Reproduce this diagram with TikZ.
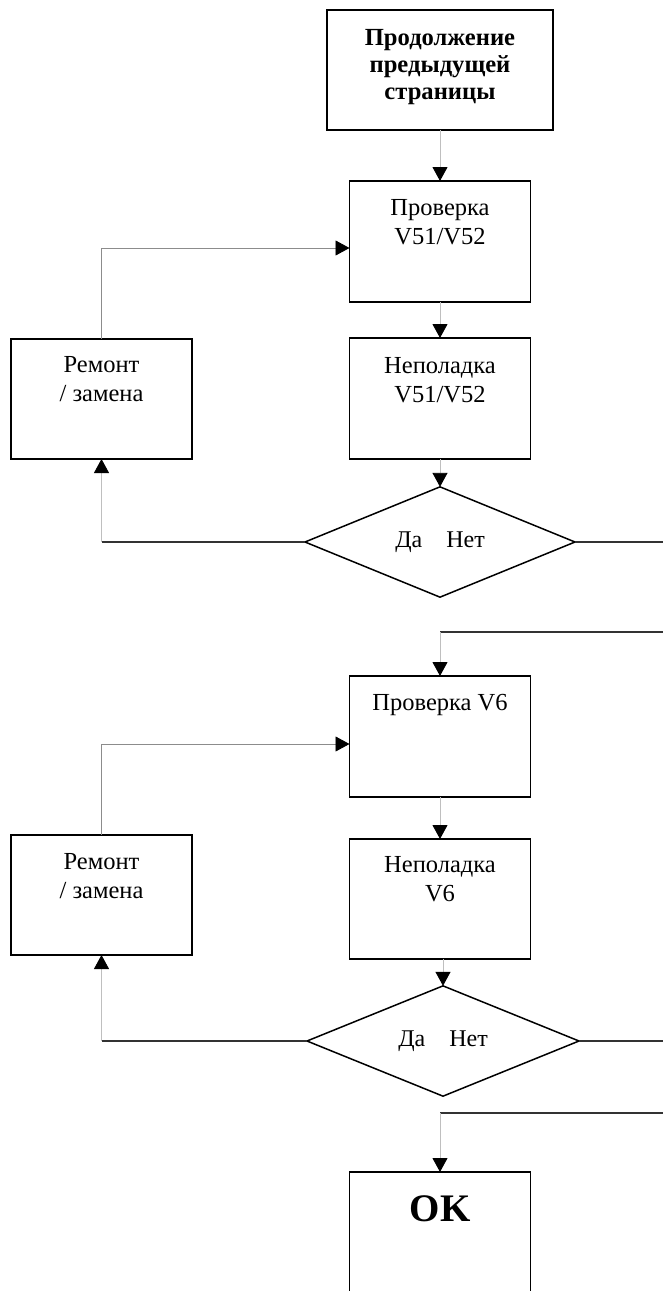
\documentclass[tikz,border=0pt]{standalone}
\usepackage{fontspec}
\setmainfont{Liberation Serif}
\usetikzlibrary{shapes.geometric,arrows.meta}
\tikzset{
  boxn/.style={draw=black,line width=1.6pt,minimum width=181pt,inner sep=0pt,outer sep=0pt},
  txtn/.style={align=center,inner sep=0pt,font={\fontsize{24.5pt}{29pt}\selectfont}},
  txtb/.style={align=center,inner sep=0pt,font={\fontsize{24.6pt}{27pt}\selectfont\bfseries}},
  dia/.style={draw=black,line width=1.5pt,diamond,inner sep=0pt,outer sep=0pt,
    minimum width=270pt,minimum height=91pt,font={\fontsize{24pt}{28pt}\selectfont}},
  tipa/.style={-{Triangle[width=15pt,length=14pt,color=black]}},
  vconn/.style={draw=black!25,line width=0.9pt},
  fconn/.style={draw=black!45,line width=0.9pt},
  hconn/.style={draw=black!80,line width=1.1pt},
}
\begin{document}
\begin{tikzpicture}[x=1pt,y=-1pt]
\useasboundingbox (0,0) rectangle (663,1291);
% boxes
\node[boxn,minimum width=226pt,minimum height=120pt] (top) at (440,70) {};
\node[txtb,anchor=north] (toptxt) at (440,29) {Продолжение\\предыдущей\\страницы};

\node[boxn,minimum height=121pt] (b1) at (440,241.5) {};
\node[txtn,anchor=north] (b1t) at (440,199) {Проверка\\V51/V52};

\node[boxn,minimum height=121pt] (b2) at (440,398.5) {};
\node[txtn,anchor=north] (b2t) at (440,357) {Неполадка\\V51/V52};

\node[boxn,minimum height=120pt] (r1) at (101.5,399) {};
\node[txtn,anchor=north] (r1t) at (101.5,356) {Ремонт\\/ замена};

\node[dia] (d1) at (440,542) {Да\hspace{24pt}Нет};

\node[boxn,minimum height=121pt] (b3) at (440,736.5) {};
\node[txtn,anchor=north] (b3t) at (440,694) {Проверка V6};

\node[boxn,minimum height=120pt] (b4) at (440,899) {};
\node[txtn,anchor=north] (b4t) at (440,856) {Неполадка\\V6};

\node[boxn,minimum height=120pt] (r2) at (101.5,895) {};
\node[txtn,anchor=north] (r2t) at (101.5,853) {Ремонт\\/ замена};

\node[dia,minimum width=272pt,minimum height=90pt] (d2) at (443,1041) {Да\hspace{24pt}Нет};

\node[boxn,minimum height=170pt] (ok) at (440,1257) {};
\node[txtb,font={\fontsize{39pt}{44pt}\selectfont\bfseries},anchor=north] (okt) at (440,1195) {OK};

% edge coordinates
\coordinate (e1) at (663,542);
\coordinate (e2) at (663,632);
\coordinate (e3) at (663,1041);
\coordinate (e4) at (663,1113);
\coordinate (c1) at (d1.west -| r1.south);
\coordinate (c2) at (d2.west -| r2.south);
\coordinate (c3) at (e2 -| b3.north);
\coordinate (c4) at (e4 -| ok.north);
\coordinate (f1) at ([yshift=-6.5pt]b1.west);
\coordinate (f2) at ([yshift=-7.5pt]b3.west);

% connectors
\draw[vconn,tipa] (top.south) -- (b1.north);
\draw[vconn,tipa] (b1.south) -- (b2.north);
\draw[vconn,tipa] (b2.south) -- (d1.north);
\draw[hconn] (d1.west) -- (c1);
\draw[vconn,tipa] (c1) -- (r1.south);
\draw[fconn,tipa] (r1.north) |- (f1);
\draw[hconn] (d1.east) -- (e1);

\draw[hconn] (e2) -- (c3);
\draw[vconn,tipa] (c3) -- (b3.north);
\draw[vconn,tipa] (b3.south) -- (b4.north);
\draw[vconn,tipa] (d2.north |- b4.south) -- (d2.north);
\draw[hconn] (d2.west) -- (c2);
\draw[vconn,tipa] (c2) -- (r2.south);
\draw[fconn,tipa] (r2.north) |- (f2);
\draw[hconn] (d2.east) -- (e3);

\draw[hconn] (e4) -- (c4);
\draw[vconn,tipa] (c4) -- (ok.north);
\end{tikzpicture}
\end{document}
